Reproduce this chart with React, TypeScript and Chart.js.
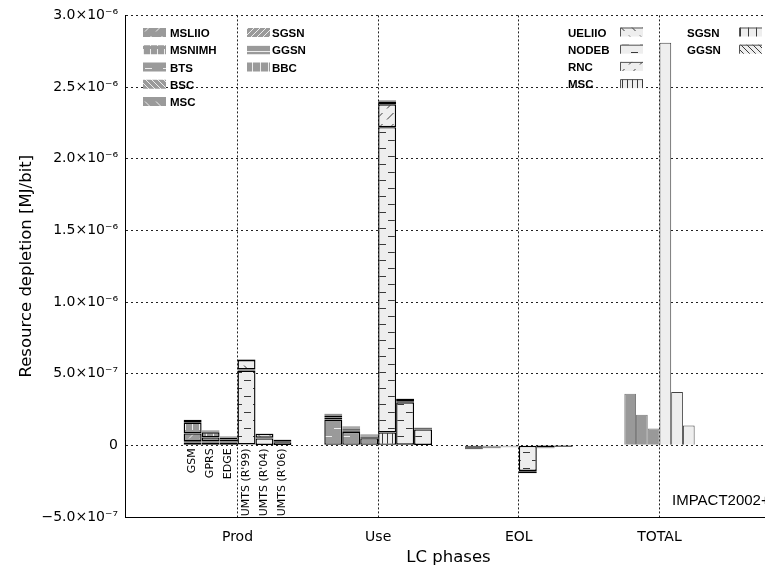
import { useEffect, useRef } from 'react';
import { Chart, registerables } from 'chart.js';

Chart.register(...registerables);

// ---------- categories / labels ----------
const phaseLabels = ['Prod', 'Use', 'EOL', 'TOTAL'];
const phasePositions = [1, 2, 3, 4];
const gsmTechs = ['GSM', 'GPRS', 'EDGE'];
const umtsTechs = ["UMTS (R'99)", "UMTS (R'04)", "UMTS (R'06)"];
const gsmComponents = ['BTS', 'BSC', 'MSC', 'MSLIIO', 'MSNIMH', 'SGSN', 'GGSN', 'BBC'];
const umtsComponents = ['MSC', 'NODEB', 'RNC', 'UELIIO', 'SGSN', 'GGSN'];

// ---------- values (MJ/bit), component order as above ----------
const gsmProd = [2.0e-8, 0.4e-8, 0.4e-8, 5.5e-8, 7.5e-8, 0, 0, 2.0e-8];
const gsmUse = [1.8e-7, 1.4e-8, 1.5e-8, 0.3e-8, 0.3e-8, 0, 0, 0.6e-8];
const gsmEol = [-1.0e-8, -0.2e-8, -0.2e-8, -0.6e-8, -0.6e-8, 0, 0, -0.2e-8];

const gprsProd = [2.0e-8, 0.4e-8, 0.3e-8, 2.8e-8, 3.6e-8, 0.3e-8, 0.2e-8, 0.8e-8];
const gprsUse = [9.5e-8, 0.9e-8, 0.8e-8, 0.3e-8, 0.3e-8, 0.6e-8, 0.3e-8, 0.4e-8];
const gprsEol = [-0.8e-8, -0.2e-8, -0.2e-8, -0.3e-8, -0.3e-8, -0.1e-8, -0.1e-8, -0.1e-8];

const edgeProd = [2.0e-8, 0.3e-8, 0.3e-8, 1.4e-8, 1.4e-8, 0.2e-8, 0.1e-8, 0.5e-8];
const edgeUse = [5.0e-8, 0.6e-8, 0.6e-8, 0.2e-8, 0.2e-8, 0.3e-8, 0.2e-8, 0.5e-8];
const edgeEol = [-0.6e-8, -0.1e-8, -0.1e-8, -0.2e-8, -0.2e-8, -0.1e-8, 0, -0.1e-8];

const r99Prod = [0.7e-8, 5.15e-7, 0.8e-8, 6.5e-8, 0.3e-8, 0.2e-8];
const r99Use = [9.0e-8, 2.13e-6, 1.6e-7, 2.0e-8, 0.5e-8, 0.3e-8];
const r99Eol = [-0.4e-8, -1.75e-7, -0.5e-8, -0.9e-8, -0.1e-8, -0.1e-8];

const r04Prod = [0.3e-8, 4.5e-8, 0.5e-8, 2.8e-8, 0.1e-8, 0.1e-8];
const r04Use = [0.5e-8, 2.95e-7, 0.8e-8, 1.5e-8, 0.2e-8, 0.1e-8];
const r04Eol = [-0.1e-8, -1.4e-8, -0.2e-8, -0.3e-8, 0, 0];

const r06Prod = [0.2e-8, 2.0e-8, 0.3e-8, 1.4e-8, 0.1e-8, 0.1e-8];
const r06Use = [0.3e-8, 10.8e-8, 0.4e-8, 0.7e-8, 0.1e-8, 0.1e-8];
const r06Eol = [-0.1e-8, -0.8e-8, -0.1e-8, -0.2e-8, 0, 0];

const totalValues = [3.6e-7, 2.14e-7, 1.17e-7, 2.81e-6, 3.73e-7, 1.38e-7];

// ---------- ticks ----------
const yTickValues = [-5e-7, 0, 5e-7, 1e-6, 1.5e-6, 2e-6, 2.5e-6, 3e-6];
const yTickLabels = ['−5.0×10⁻⁷', '0', '5.0×10⁻⁷', '1.0×10⁻⁶', '1.5×10⁻⁶', '2.0×10⁻⁶', '2.5×10⁻⁶', '3.0×10⁻⁶'];

// ---------- legends ----------
const gsmLegendCol1 = ['MSLIIO', 'MSNIMH', 'BTS', 'BSC', 'MSC'];
const gsmLegendCol2 = ['SGSN', 'GGSN', 'BBC'];
const umtsLegendCol1 = ['UELIIO', 'NODEB', 'RNC', 'MSC'];
const umtsLegendCol2 = ['SGSN', 'GGSN'];
const methodLabel = 'IMPACT2002+';

const gsmData = [
  [gsmProd, gsmUse, gsmEol],
  [gprsProd, gprsUse, gprsEol],
  [edgeProd, edgeUse, edgeEol],
];
const umtsData = [
  [r99Prod, r99Use, r99Eol],
  [r04Prod, r04Use, r04Eol],
  [r06Prod, r06Use, r06Eol],
];

const GSM_BG = '#9a9a9a';
const GSM_FG = '#ededed';
const UMTS_BG = '#eeeeee';
const UMTS_FG = '#3a3a3a';
const FONT = "'DejaVu Sans', sans-serif";

const gsmPatternKinds: Record<string, string> = {
  MSLIIO: 'diagUp',
  MSNIMH: 'vert',
  BTS: 'hdash',
  BSC: 'diagDownDense',
  MSC: 'diagDown',
  SGSN: 'diagUpDense',
  GGSN: 'hline',
  BBC: 'vertMed',
};
const umtsPatternKinds: Record<string, string> = {
  UELIIO: 'diagDown',
  NODEB: 'hdash',
  RNC: 'diagUp',
  MSC: 'vertDense',
  SGSN: 'vertMed',
  GGSN: 'diagDownDense',
};

function makePattern(ctx: CanvasRenderingContext2D, kind: string, bg: string, fg: string) {
  const t = document.createElement('canvas');
  let w = 10;
  let h = 10;
  if (kind === 'diagUp' || kind === 'diagDown') { w = 11; h = 11; }
  if (kind === 'diagDownDense' || kind === 'diagUpDense') { w = 6; h = 6; }
  if (kind === 'vert') { w = 7; h = 12; }
  if (kind === 'vertDense') { w = 5; h = 4; }
  if (kind === 'vertMed') { w = 8; h = 4; }
  if (kind === 'hdash') { w = 18; h = 16; }
  if (kind === 'hline') { w = 4; h = 6; }
  t.width = w;
  t.height = h;
  const c = t.getContext('2d')!;
  c.fillStyle = bg;
  c.fillRect(0, 0, w, h);
  c.strokeStyle = fg;
  c.lineWidth = 1;
  c.beginPath();
  switch (kind) {
    case 'diagUp':
      c.moveTo(2, 9.5); c.lineTo(8.5, 3);
      break;
    case 'diagDown':
      c.moveTo(2, 2.5); c.lineTo(8.5, 9);
      break;
    case 'diagDownDense':
      c.moveTo(-1, -1); c.lineTo(7, 7);
      c.moveTo(-1, 5); c.lineTo(1, 7);
      c.moveTo(5, -1); c.lineTo(7, 1);
      break;
    case 'diagUpDense':
      c.moveTo(-1, 7); c.lineTo(7, -1);
      c.moveTo(-1, 1); c.lineTo(1, -1);
      c.moveTo(5, 7); c.lineTo(7, 5);
      break;
    case 'vert':
      c.moveTo(3.5, 1); c.lineTo(3.5, 10);
      break;
    case 'vertDense':
      c.moveTo(2.5, 0); c.lineTo(2.5, 4);
      break;
    case 'vertMed':
      c.moveTo(4.5, 0); c.lineTo(4.5, 4);
      break;
    case 'hdash':
      c.moveTo(1, 4.5); c.lineTo(8, 4.5);
      c.moveTo(10, 12.5); c.lineTo(17, 12.5);
      break;
    case 'hline':
      c.moveTo(0, 3.5); c.lineTo(4, 3.5);
      break;
  }
  c.stroke();
  return ctx.createPattern(t, 'repeat')!;
}

export default function App() {
  const ref = useRef<HTMLCanvasElement>(null);

  useEffect(() => {
    const canvas = ref.current!;
    const ctx = canvas.getContext('2d')!;

    const gsmPatterns: Record<string, CanvasPattern> = {};
    Object.keys(gsmPatternKinds).forEach((k) => {
      gsmPatterns[k] = makePattern(ctx, gsmPatternKinds[k], GSM_BG, GSM_FG);
    });
    const umtsPatterns: Record<string, CanvasPattern> = {};
    Object.keys(umtsPatternKinds).forEach((k) => {
      umtsPatterns[k] = makePattern(ctx, umtsPatternKinds[k], UMTS_BG, UMTS_FG);
    });

    const datasets: any[] = [];
    const firstIndex: number[] = [];
    gsmTechs.forEach((tech, t) => {
      firstIndex.push(datasets.length);
      gsmComponents.forEach((comp, c) => {
        datasets.push({
          label: `${tech} ${comp}`,
          stack: tech,
          data: gsmData[t].map((phase, p) => ({ x: phasePositions[p], y: phase[c] })),
          backgroundColor: gsmPatterns[comp],
          borderColor: '#000',
          borderWidth: 1.4,
          borderSkipped: false,
          categoryPercentage: 0.766,
          barPercentage: 1,
        });
      });
    });
    umtsTechs.forEach((tech, t) => {
      firstIndex.push(datasets.length);
      umtsComponents.forEach((comp, c) => {
        datasets.push({
          label: `${tech} ${comp}`,
          stack: tech,
          data: umtsData[t].map((phase, p) => ({ x: phasePositions[p], y: phase[c] })),
          backgroundColor: umtsPatterns[comp],
          borderColor: '#000',
          borderWidth: 1.4,
          borderSkipped: false,
          categoryPercentage: 0.766,
          barPercentage: 1,
        });
      });
    });
    const allTechs = [...gsmTechs, ...umtsTechs];
    allTechs.forEach((tech, t) => {
      datasets.push({
        label: `${tech} total`,
        stack: tech,
        data: [{ x: phasePositions[3], y: totalValues[t] }],
        backgroundColor: t < 3 ? '#999999' : '#eeeeee',
        borderColor: t < 3 ? '#7a7a7a' : '#444444',
        borderWidth: 1,
        borderSkipped: 'start',
        categoryPercentage: 0.5,
        barPercentage: 1,
      });
    });

    const overlay = {
      id: 'overlay',
      afterDatasetsDraw(chart: any) {
        const c = chart.ctx as CanvasRenderingContext2D;
        const y0 = chart.scales.y.getPixelForValue(0);
        c.save();
        // technology labels under the Prod bars
        c.font = `11px ${FONT}`;
        c.fillStyle = '#000';
        c.textAlign = 'right';
        c.textBaseline = 'middle';
        allTechs.forEach((tech, t) => {
          const el = chart.getDatasetMeta(firstIndex[t]).data[0];
          c.save();
          c.translate(el.x, y0 + 3);
          c.rotate(-Math.PI / 2);
          c.fillText(tech, 0, 0);
          c.restore();
        });

        // legends
        c.font = "bold 11.5px 'Liberation Sans', Arial, sans-serif";
        c.textBaseline = 'middle';
        const sw = 23;
        const sh = 9;
        const drawLeftLegend = (labels: string[], sx: number, tx: number) => {
          labels.forEach((lab, i) => {
            const cy = 34 + i * 17.25;
            c.fillStyle = gsmPatterns[lab];
            c.fillRect(sx, cy - 6, sw, sh);
            c.fillStyle = '#000';
            c.textAlign = 'left';
            c.fillText(lab, tx, cy);
          });
        };
        drawLeftLegend(gsmLegendCol1, 143, 170);
        drawLeftLegend(gsmLegendCol2, 247, 272);

        const drawRightLegend = (labels: string[], tx: number, sx: number) => {
          labels.forEach((lab, i) => {
            const cy = 33.5 + i * 17.2;
            c.fillStyle = umtsPatterns[lab];
            c.fillRect(sx, cy - 6, sw, sh);
            c.strokeStyle = '#555';
            c.lineWidth = 1;
            c.beginPath();
            c.moveTo(sx + 0.5, cy + 3);
            c.lineTo(sx + 0.5, cy - 5.5);
            c.lineTo(sx + sw, cy - 5.5);
            c.stroke();
            c.fillStyle = '#000';
            c.textAlign = 'left';
            c.fillText(lab, tx, cy);
          });
        };
        drawRightLegend(umtsLegendCol1, 568, 620);
        drawRightLegend(umtsLegendCol2, 687, 739);

        c.font = "15px 'Liberation Sans', Arial, sans-serif";
        c.textAlign = 'left';
        c.fillStyle = '#000';
        c.fillText(methodLabel, 672, 501);
        c.restore();
      },
    };

    const chart = new Chart(canvas, {
      type: 'bar',
      data: { datasets },
      plugins: [overlay],
      options: {
        animation: false,
        responsive: false,
        events: [],
        layout: { padding: { left: 0, top: 11, right: 28, bottom: 0 } },
        plugins: { legend: { display: false }, tooltip: { enabled: false } },
        scales: {
          x: {
            type: 'linear',
            min: 0.2,
            max: 4.8,
            stacked: true,
            offset: false,
            afterBuildTicks: (scale: any) => {
              scale.ticks = phasePositions.map((v) => ({ value: v }));
            },
            afterFit: (scale: any) => {
              scale.height = 48;
            },
            ticks: {
              autoSkip: false,
              maxRotation: 0,
              padding: 12,
              color: '#000',
              font: { family: FONT, size: 14 },
              callback: (_v: any, i: number) => phaseLabels[i],
            },
            grid: { offset: false, drawTicks: false, color: '#222', lineWidth: 1 },
            border: { display: true, color: '#000', width: 1, dash: [2, 2] },
            title: {
              display: true,
              text: 'LC phases',
              color: '#000',
              font: { family: FONT, size: 16.5 },
              padding: { top: 0, bottom: -3 },
            },
          },
          y: {
            type: 'linear',
            min: -5e-7,
            max: 3e-6,
            stacked: true,
            afterBuildTicks: (scale: any) => {
              scale.ticks = yTickValues.map((v) => ({ value: v }));
            },
            afterFit: (scale: any) => {
              scale.width = 125;
            },
            ticks: {
              padding: 7,
              color: '#000',
              font: { family: FONT, size: 14 },
              callback: (_v: any, i: number) => yTickLabels[i],
            },
            grid: { drawTicks: false, color: '#222', lineWidth: 1 },
            border: { display: true, color: '#000', width: 1, dash: [2, 3] },
            title: {
              display: true,
              text: 'Resource depletion [MJ/bit]',
              color: '#000',
              font: { family: FONT, size: 16.5 },
              padding: { top: 17, bottom: 0 },
            },
          },
        },
      } as any,
    });

    return () => chart.destroy();
  }, []);

  return (
    <div
      style={{
        position: 'fixed',
        left: 0,
        top: 0,
        width: 765,
        height: 565,
        overflow: 'hidden',
        background: '#fff',
      }}
    >
      <canvas ref={ref} width={800} height={565} style={{ display: 'block', width: 800, height: 565 }} />
    </div>
  );
}
